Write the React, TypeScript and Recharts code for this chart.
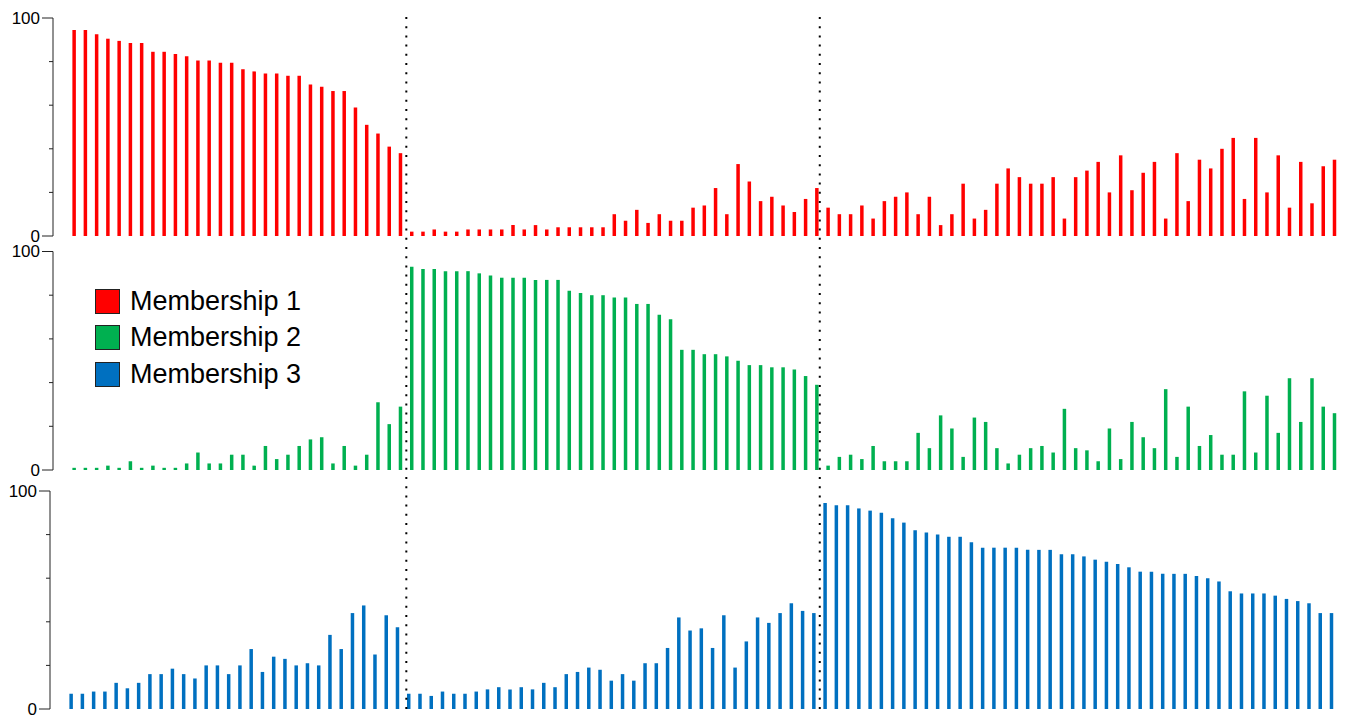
import React from 'react';
import { BarChart, Bar, XAxis, YAxis, ReferenceLine } from 'recharts';

// Samples are sorted into three clusters; each series is split by cluster.
const CLUSTER_SIZES = [30, 37, 46];

const membership1Cluster1 = [94.5, 94.5, 92.5, 90.5, 89.5, 88.5, 88.5, 84.5, 84.5, 83.5, 82.5, 80.5, 80.5, 79.5, 79.5, 76.5, 75.5, 74.5, 74.5, 73.5, 73.5, 69.5, 68.5, 66.5, 66.5, 59, 51, 47, 41, 38];
const membership1Cluster2 = [2, 2, 3, 2, 2, 3, 3, 3, 3, 5, 3, 5, 3, 4, 4, 4, 4, 4, 10, 7, 12, 6, 10, 7, 7, 13, 14, 22, 10, 33, 25, 16, 18, 14, 11, 17, 22];
const membership1Cluster3 = [13, 10, 10, 14, 8, 16, 18, 20, 10, 18, 5, 10, 24, 8, 12, 24, 31, 27, 24, 24, 27, 8, 27, 30, 34, 20, 37, 21, 29, 34, 8, 38, 16, 35, 31, 40, 45, 17, 45, 20, 37, 13, 34, 15, 32, 35];

const membership2Cluster1 = [1, 1, 1, 2, 1, 4, 1, 2, 1, 1, 3, 8, 3, 3, 7, 7, 2, 11, 5, 7, 11, 14, 15, 3, 11, 2, 7, 31, 21, 29];
const membership2Cluster2 = [93, 92, 92, 91, 91, 91, 90, 89, 88, 88, 88, 87, 87, 87, 82, 81, 80, 80, 79, 79, 76, 76, 71, 69, 55, 55, 53, 53, 52, 50, 48, 48, 47, 47, 46, 43, 39];
const membership2Cluster3 = [2, 6, 7, 5, 11, 4, 4, 4, 17, 10, 25, 19, 6, 24, 22, 10, 3, 7, 10, 11, 8, 28, 10, 9, 4, 19, 5, 22, 15, 10, 37, 6, 29, 11, 16, 7, 7, 36, 8, 34, 17, 42, 22, 42, 29, 26];

const membership3Cluster1 = [7, 7, 8, 8, 12, 9.5, 12, 16, 16, 18.5, 16, 14, 20, 20, 16, 20, 27.5, 17, 24, 23, 20, 21, 20, 34, 27.5, 44, 47.5, 25, 43, 37.5];
const membership3Cluster2 = [7, 7, 6, 8, 7, 7, 8, 9, 10, 9, 10, 9, 12, 10, 16, 17, 19, 18, 13, 16, 13, 21, 21, 28, 42, 36, 37, 28, 43, 19, 31, 42, 39.5, 44, 48.5, 45, 44];
const membership3Cluster3 = [94.5, 93.5, 93.5, 92, 91, 90, 87.5, 85.5, 82, 81, 80, 79, 79, 76.5, 74, 74, 74, 74, 73, 73, 73, 71, 71, 70, 68.5, 67.5, 66.5, 65, 63, 63, 62, 62, 62, 61, 60, 58.5, 54, 53, 53, 53, 52, 50.5, 49.5, 48.5, 44, 44];

const SERIES_NAMES = ['Membership 1', 'Membership 2', 'Membership 3'];
const SERIES_COLORS = ['#FF0000', '#00B050', '#0070C0'];
const Y_TICKS = [0, 20, 40, 60, 80, 100];
const Y_TICK_LABELS: Record<number, string> = { 0: '0', 100: '100' };

// Divider positions on the sample axis, between the clusters.
const CLUSTER_BREAKS = [29.53, 66.27];

const series1 = [...membership1Cluster1, ...membership1Cluster2, ...membership1Cluster3];
const series2 = [...membership2Cluster1, ...membership2Cluster2, ...membership2Cluster3];
const series3 = [...membership3Cluster1, ...membership3Cluster2, ...membership3Cluster3];

const sampleCount = CLUSTER_SIZES.reduce((a, b) => a + b, 0);
const rows = Array.from({ length: sampleCount }, (_, i) => ({
  idx: i,
  m1: series1[i],
  m2: series2[i],
  m3: series3[i],
}));

const FONT = '"Liberation Sans", Arial, Helvetica, sans-serif';
const X_DOMAIN: [number, number] = [-1.867, 112.5];
const WIDTH = 1346;

const AxisTick = (props: any) => {
  const { x, y, payload } = props;
  const label = Y_TICK_LABELS[payload.value];
  const len = label !== undefined ? 11 : 4;
  return (
    <g>
      <line x1={x - len} x2={x} y1={y} y2={y} stroke="#222" strokeWidth={1} />
      {label !== undefined && (
        <text
          x={x - 13}
          y={y}
          textAnchor="end"
          dominantBaseline="central"
          fontSize={17}
          fontFamily={FONT}
          fill="#000"
        >
          {label}
        </text>
      )}
    </g>
  );
};

type PanelProps = {
  dataKey: string;
  color: string;
  top: number;
  left: number;
  height: number;
  margin: { top: number; right: number; bottom: number; left: number };
};

const Panel = ({ dataKey, color, top, left, height, margin }: PanelProps) => (
  <div style={{ position: 'absolute', top, left }}>
    <BarChart width={WIDTH} height={height} data={rows} margin={margin}>
      <XAxis hide type="number" dataKey="idx" domain={X_DOMAIN} allowDataOverflow />
      <YAxis
        width={53}
        domain={[0, 100]}
        ticks={Y_TICKS}
        interval={0}
        tickSize={0}
        tickMargin={0}
        tickLine={false}
        axisLine={{ stroke: '#222', strokeWidth: 1 }}
        tick={<AxisTick />}
      />
      <Bar dataKey={dataKey} fill={color} barSize={3.5} isAnimationActive={false} />
    </BarChart>
  </div>
);

const Legend = () => (
  <div style={{ position: 'absolute', left: 95, top: 283, fontFamily: FONT }}>
    {SERIES_NAMES.map((name, i) => (
      <div key={name} style={{ display: 'flex', alignItems: 'center', height: 36.5 }}>
        <div
          style={{
            width: 23,
            height: 23,
            background: SERIES_COLORS[i],
            border: '1px solid #222',
            marginRight: 10,
          }}
        />
        <span style={{ fontSize: 27, color: '#000', lineHeight: 1 }}>{name}</span>
      </div>
    ))}
  </div>
);

export default function App() {
  return (
    <div
      style={{
        position: 'absolute',
        left: 0,
        top: 0,
        width: WIDTH,
        height: 717,
        background: '#fff',
        overflow: 'hidden',
        fontFamily: FONT,
      }}
    >
      <Panel dataKey="m1" color={SERIES_COLORS[0]} top={0} left={0} height={246} margin={{ top: 18, right: 6, bottom: 10, left: 0 }} />
      <Panel dataKey="m2" color={SERIES_COLORS[1]} top={240} left={0} height={240} margin={{ top: 11.5, right: 6, bottom: 10, left: 0 }} />
      <Panel dataKey="m3" color={SERIES_COLORS[2]} top={480} left={-3} height={237} margin={{ top: 11, right: 6, bottom: 8, left: 0 }} />
      <Legend />
      {/* Dotted cluster dividers running through all three panels */}
      <div style={{ position: 'absolute', top: 0, left: 0, pointerEvents: 'none' }}>
        <BarChart width={WIDTH} height={717} data={rows} margin={{ top: 13, right: 6, bottom: 8, left: 53 }}>
          <XAxis hide type="number" dataKey="idx" domain={X_DOMAIN} allowDataOverflow />
          <YAxis hide domain={[0, 100]} />
          <Bar dataKey="m1" fill="none" fillOpacity={0} barSize={0} isAnimationActive={false} />
          {CLUSTER_BREAKS.map((b) => (
            <ReferenceLine
              key={b}
              x={b}
              stroke="#000"
              strokeWidth={2}
              strokeDasharray="2 7.2"
              ifOverflow="visible"
            />
          ))}
        </BarChart>
      </div>
    </div>
  );
}
